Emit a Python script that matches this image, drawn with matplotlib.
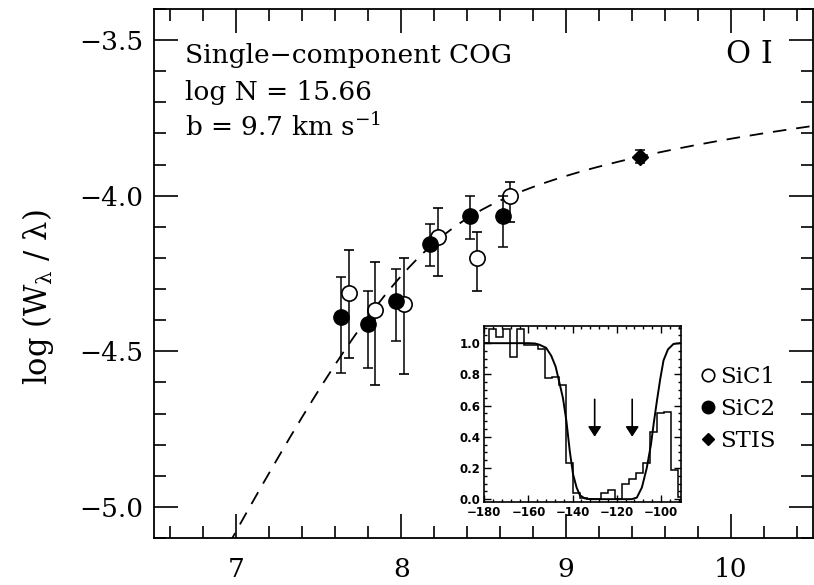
import numpy as np
import matplotlib
matplotlib.use("Agg")
import matplotlib.pyplot as plt
from matplotlib.ticker import MultipleLocator
from matplotlib.lines import Line2D

plt.rcParams['font.family'] = ['DejaVu Serif']
plt.rcParams['mathtext.fontset'] = 'dejavuserif'
plt.rcParams['mathtext.default'] = 'regular'

# ---- curve-of-growth fit parameters ----
ion_label = "O I"
log_N = 15.66
b_kms = 9.7

# ---- measured equivalent widths: log(N f lambda), log(W/lambda) and error bar ends ----
sic1_x = [7.682, 7.839, 8.015, 8.223, 8.459, 8.658]
sic1_y = [-4.314, -4.366, -4.347, -4.134, -4.201, -4.000]
sic1_hi = [-4.174, -4.213, -4.201, -4.040, -4.116, -3.955]
sic1_lo = [-4.521, -4.607, -4.573, -4.258, -4.306, -4.086]

sic2_x = [7.637, 7.797, 7.971, 8.177, 8.419, 8.617]
sic2_y = [-4.389, -4.411, -4.339, -4.154, -4.065, -4.065]
sic2_hi = [-4.261, -4.306, -4.237, -4.091, -4.002, -4.002]
sic2_lo = [-4.570, -4.554, -4.468, -4.226, -4.140, -4.164]

stis_x = [9.452]
stis_y = [-3.874]
stis_hi = [-3.853]
stis_lo = [-3.896]

# ---- inset: normalized O I profile (binned data) and fitted model ----
vel_edges = [-181.2, -178.0, -174.8, -171.7, -168.5, -165.3, -162.2, -159.0,
             -155.8, -152.6, -149.5, -146.3, -143.1, -140.0, -136.8, -133.6,
             -130.4, -127.3, -124.1, -120.9, -117.8, -114.6, -111.4, -108.2,
             -105.1, -101.9, -98.7, -95.6, -92.4, -89.2]
flux_bins = [1.00, 1.09, 1.04, 1.09, 0.91, 1.09, 0.99, 0.99, 0.96, 0.775,
             0.78, 0.73, 0.23, 0.04, 0.01, 0.00, 0.00, 0.04, 0.06, 0.00,
             0.10, 0.13, 0.17, 0.23, 0.43, 0.55, 0.56, 0.19, 0.015]
fit_vel = [-180, -160, -157, -155, -152, -149.7, -147.7, -146.2, -144.4,
           -142.8, -141.3, -139.8, -138.2, -136.7, -134.5, -132, -125,
           -113.2, -110.9, -108.6, -106.4, -104.5, -103.3, -101.8, -100.3,
           -98.8, -96.8, -94.3, -91.5, -90]
fit_flux = [1.0, 1.0, 0.998, 0.99, 0.97, 0.92, 0.85, 0.76, 0.65,
            0.50, 0.31, 0.16, 0.075, 0.025, 0.005, 0.0, 0.0,
            0.0, 0.01, 0.075, 0.20, 0.35, 0.48, 0.63, 0.77,
            0.89, 0.96, 0.995, 1.0, 1.0]
comp_vel = [-130, -113]
arrow_top, arrow_tip = 0.64, 0.40


def curve_of_growth(log_nfl, b):
    """log(W/lambda) for a Doppler-broadened line, lambda in cm, b in km/s."""
    c_kms = 2.99792458e5
    tau0 = 1.497e-2 * 10.0 ** np.asarray(log_nfl) / (b * 1e5)
    u = np.linspace(-12, 12, 4001)
    integrand = 1.0 - np.exp(-tau0[:, None] * np.exp(-u ** 2)[None, :])
    width = np.trapezoid(integrand, u, axis=1)
    return np.log10(b / c_kms * width)


fig = plt.figure(figsize=(8.14, 5.85), dpi=100)
ax = fig.add_axes([0.1892, 0.0803, 0.8098, 0.9043])

# model curve of growth
xg = np.linspace(6.5, 10.5, 400)
cog = ax.plot(xg, curve_of_growth(xg, b_kms), color='k', lw=1.3)[0]
cog.set_dashes([7.5, 5.5])


def errs(y, lo, hi):
    y = np.asarray(y)
    return [y - np.asarray(lo), np.asarray(hi) - y]


eb_kw = dict(ecolor='k', elinewidth=1.1, capsize=3.6, capthick=1.1, ls='none')
ax.errorbar(sic1_x, sic1_y, yerr=errs(sic1_y, sic1_lo, sic1_hi), fmt='o',
            mfc='white', mec='k', mew=1.2, ms=11, zorder=3, **eb_kw)
ax.errorbar(sic2_x, sic2_y, yerr=errs(sic2_y, sic2_lo, sic2_hi), fmt='o',
            mfc='k', mec='k', ms=11, zorder=4, **eb_kw)
ax.errorbar(stis_x, stis_y, yerr=errs(stis_y, stis_lo, stis_hi), fmt='D',
            mfc='k', mec='k', ms=8, zorder=4, **eb_kw)

ax.set_xlim(6.5, 10.5)
ax.set_ylim(-5.1, -3.4)
ax.xaxis.set_major_locator(MultipleLocator(1))
ax.xaxis.set_minor_locator(MultipleLocator(0.2))
ax.yaxis.set_major_locator(MultipleLocator(0.5))
ax.yaxis.set_minor_locator(MultipleLocator(0.1))
ax.yaxis.set_major_formatter(lambda v, p: f"\u2212{abs(v):.1f}")
ax.tick_params(which='both', direction='in', top=True, right=True, width=1.2)
ax.tick_params(which='major', length=17, labelsize=19)
ax.tick_params(which='minor', length=8.5)
ax.tick_params(axis='y', pad=8)
ax.tick_params(axis='x', pad=14)
for s in ax.spines.values():
    s.set_linewidth(1.3)

ax.set_ylabel('log (W$_{λ}$ / λ)', fontsize=22)
ax.yaxis.set_label_coords(-0.1485, 0.455)

txt_kw = dict(fontsize=19, va='baseline', ha='left', transform=fig.transFigure)
fig.text(0.2273, 0.8923, "Single\u2212component COG", **txt_kw)
fig.text(0.2273, 0.8291, f"log N = {log_N:.2f}", **txt_kw)
fig.text(0.2273, 0.7675, f"b = {b_kms:.1f} km s$^{{-1}}$", **txt_kw)
fig.text(0.9496, 0.8929, ion_label, fontsize=22, va='baseline', ha='right')

handles = [
    Line2D([], [], ls='none', marker='o', mfc='white', mec='k', mew=1.2, ms=9),
    Line2D([], [], ls='none', marker='o', mfc='k', mec='k', ms=9),
    Line2D([], [], ls='none', marker='D', mfc='k', mec='k', ms=6.5),
]
ax.legend(handles, ['SiC1', 'SiC2', 'STIS'], loc='center left',
          bbox_to_anchor=(701 / 814, 1 - 409 / 585), bbox_transform=fig.transFigure,
          frameon=False, fontsize=16.5, handlelength=0.6, handletextpad=0.25,
          labelspacing=0.42, borderpad=0, borderaxespad=0)

# ---- inset profile ----
ins = fig.add_axes([0.595, 0.1414, 0.2413, 0.3013])
ins.set_facecolor('white')
ins.stairs(flux_bins, vel_edges, baseline=None, color='k', lw=1.1)
ins.plot(fit_vel, fit_flux, color='k', lw=1.4)
for v in comp_vel:
    ins.annotate('', xy=(v, arrow_tip), xytext=(v, arrow_top),
                 arrowprops=dict(arrowstyle='-|>,head_length=0.43,head_width=0.28',
                                 color='k', lw=1.2, mutation_scale=14,
                                 shrinkA=0, shrinkB=0))
ins.set_xlim(-180, -91)
ins.set_ylim(-0.02, 1.11)
ins.xaxis.set_major_locator(MultipleLocator(20))
ins.xaxis.set_minor_locator(MultipleLocator(4))
ins.yaxis.set_major_locator(MultipleLocator(0.2))
ins.yaxis.set_minor_locator(MultipleLocator(0.05))
ins.xaxis.set_major_formatter(lambda v, p: f"\u2212{abs(v):.0f}")
ins.yaxis.set_major_formatter(lambda v, p: f"{v:.1f}")
ins.tick_params(which='both', direction='in', top=True, right=True, width=1.0)
ins.tick_params(which='major', length=5, labelsize=8.5, pad=3)
ins.tick_params(which='minor', length=2.5)
for lab in ins.get_xticklabels() + ins.get_yticklabels():
    lab.set_family('DejaVu Sans')
    lab.set_fontweight('bold')
for s in ins.spines.values():
    s.set_linewidth(1.2)

fig.savefig('out.png', dpi=100)
